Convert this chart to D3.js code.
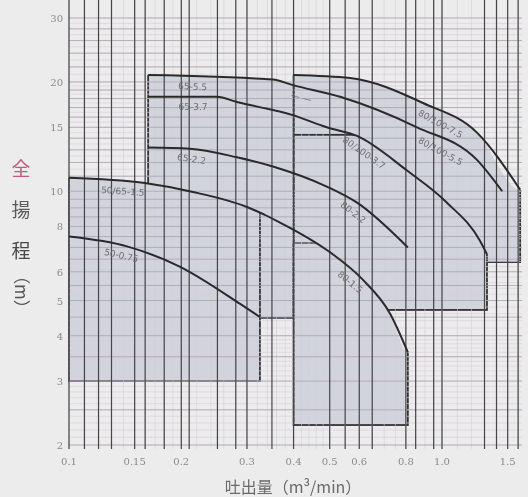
<!DOCTYPE html>
<html>
<head>
<meta charset="utf-8">
<script src="https://cdn.jsdelivr.net/npm/d3@7"></script>
<style>
body{margin:0;background:#ececec;}
svg{display:block;}
</style>
</head>
<body>
<div id="chart"></div>
<script>
// tick labels
var qTicks = [0.1,0.15,0.2,0.3,0.4,0.5,0.6,0.8,1.0,1.5];
var qTickText = ["0.1","0.15","0.2","0.3","0.4","0.5","0.6","0.8","1.0","1.5"];
var hTicks = [2,3,4,5,6,8,10,15,20,30];

// heavy vertical rules of the printed grid (m3/min)
var qRules = [0.1,0.11,0.12,0.13,0.15,0.16,0.18,0.2,0.21,0.25,0.28,0.3,0.35,0.4,0.5,0.55,0.6,0.65,0.8,0.85,0.95,1.0,1.3,1.4,1.5,1.6];

// performance curves, [Q m3/min, H m]
var c075 = [[0.1,7.5],[0.143,7.05],[0.198,6.2],[0.287,4.9],[0.325,4.5]];
var c15  = [[0.1,10.9],[0.158,10.55],[0.215,9.95],[0.3,9.05],[0.368,8.2],[0.5,6.8],[0.614,5.7],[0.726,4.6],[0.81,3.6]];
var c22  = [[0.163,13.2],[0.211,13.1],[0.282,12.4],[0.352,11.7],[0.491,10.3],[0.592,9.3],[0.81,7.0]];
var c37  = [[0.163,18.2],[0.249,18.2],[0.282,17.6],[0.398,16.2],[0.491,15.0],[0.592,14.2],[0.806,11.4],[1.031,9.3],[1.264,7.3],[1.32,6.7]];
var c55  = [[0.163,20.9],[0.352,20.3],[0.398,19.6],[0.533,18.2],[0.857,15.0],[1.241,12.2],[1.45,10.0]];
var c75  = [[0.4,20.9],[0.567,20.5],[0.889,17.5],[1.241,14.5],[1.62,10.1]];

// application ranges: Q from-to, lowest head, head cap, top curve
var ranges = [
  {q0:0.4,   q1:1.62,  h0:6.38, cap:40,   top:c75},
  {q0:0.4,   q1:1.32,  h0:4.71, cap:14.3, top:c37},
  {q0:0.163, q1:0.4,   h0:4.48, cap:40,   top:c55},
  {q0:0.1,   q1:0.325, h0:3.0,  cap:40,   top:c15},
  {q0:0.4,   q1:0.81,  h0:2.27, cap:7.2,  top:c15}
];

var curves = [c075, c15, c22, c37, c55, c75];

// model names along the curves, with the flow where they sit
var labelText = ["50-0.75","50/65-1.5","80-1.5","65-2.2","80-2.2","65-3.7","80/100-3.7","65-5.5","— —","80/100-5.5","80/100-7.5"];
var labelCurve = [c075, c15, c15, c22, c22, c37, c37, c55, c55, c55, c75];
var labelQ = [0.14, 0.14, 0.59, 0.215, 0.6, 0.215, 0.64, 0.215, 0.425, 1.02, 1.02];

var W = 528, H = 497;
var svg = d3.select('#chart').append('svg').attr('width',W).attr('height',H);

var x = d3.scaleLog().domain([0.1,1.5]).range([69, 69+373*Math.log10(15)]);
var y = d3.scaleLog().domain([2,30]).range([445,18]);
var left = x(0.1), right = 522, top = 15, bottom = 449;

var defs = svg.append('defs');
defs.append('filter').attr('id','soft')
  .append('feGaussianBlur').attr('stdDeviation',0.4);

var g = svg.append('g').attr('filter','url(#soft)');

g.append('rect').attr('x',left).attr('y',top)
  .attr('width',right-left).attr('height',bottom-top)
  .style('fill','#f6f4f6');

function headAt(c, q){
  var lq = Math.log(q);
  for (var i = 0; i < c.length-1; i++) {
    var a = c[i], b = c[i+1];
    if (q <= b[0] || i == c.length-2) {
      var t = (lq-Math.log(a[0]))/(Math.log(b[0])-Math.log(a[0]));
      return Math.exp(Math.log(a[1]) + t*(Math.log(b[1])-Math.log(a[1])));
    }
  }
}

var line = d3.line()
  .x(function(d){return x(d[0]);})
  .y(function(d){return y(d[1]);})
  .curve(d3.curveMonotoneX);

var under = d3.area()
  .x(function(d){return x(d[0]);})
  .y0(bottom+10)
  .y1(function(d){return y(d[1]);})
  .curve(d3.curveMonotoneX);

// shaded ranges, each clipped under its curve
ranges.forEach(function(r, i){
  var c = r.top;
  var pts = [[c[0][0]/1.03, c[0][1]]].concat(c, [[c[c.length-1][0]*1.03, c[c.length-1][1]]]);
  defs.append('clipPath').attr('id','under'+i)
    .append('path').attr('d', under(pts));
  g.append('rect')
    .attr('x', x(r.q0))
    .attr('y', y(Math.min(r.cap, 40)))
    .attr('width', x(r.q1)-x(r.q0))
    .attr('height', y(r.h0)-y(Math.min(r.cap,40)))
    .attr('clip-path','url(#under'+i+')')
    .style('fill','#d0d5dd')
    .style('stroke','#333')
    .style('stroke-width',1.8);
});

// printed grid
var hMinor = d3.range(2,4,0.1).concat(d3.range(4,10,0.2), d3.range(10,20,0.5), d3.range(20,30.01,1));
var hMajor = d3.range(2,10,0.5).concat(d3.range(10,20,1), d3.range(20,31,2));
var qMinor = d3.range(0.1,0.2,0.01).concat(d3.range(0.2,0.5,0.02), d3.range(0.5,1,0.05), d3.range(1,1.66,0.1));

g.selectAll('.hmin').data(hMinor).enter().append('line')
  .attr('x1',left).attr('x2',right)
  .attr('y1',function(d){return y(d);}).attr('y2',function(d){return y(d);})
  .style('stroke','#e0cde0').style('stroke-width',0.7);

g.selectAll('.qmin').data(qMinor).enter().append('line')
  .attr('y1',top).attr('y2',bottom)
  .attr('x1',function(d){return x(d);}).attr('x2',function(d){return x(d);})
  .style('stroke','#cfd0d3').style('stroke-width',0.6);

g.selectAll('.hmaj').data(hMajor).enter().append('line')
  .attr('x1',left).attr('x2',right)
  .attr('y1',function(d){return y(d);}).attr('y2',function(d){return y(d);})
  .style('stroke','#a9a3ae').style('stroke-width',0.8);

g.selectAll('.qrule').data(qRules).enter().append('line')
  .attr('y1',top).attr('y2',bottom)
  .attr('x1',function(d){return x(d);}).attr('x2',function(d){return x(d);})
  .style('stroke','#444').style('stroke-width',1.2);

// curves
curves.forEach(function(c){
  g.append('path').attr('d', line(c))
    .style('fill','none').style('stroke','#2a2a2a').style('stroke-width',2);
});

// labels along curves
labelText.forEach(function(t, i){
  var c = labelCurve[i], q = labelQ[i];
  var xa = x(q/1.04), ya = y(headAt(c, q/1.04));
  var xb = x(q*1.04), yb = y(headAt(c, q*1.04));
  var ang = Math.atan2(yb-ya, xb-xa)*180/Math.PI;
  var px = x(q), py = y(headAt(c, q));
  g.append('text')
    .attr('transform','translate('+px+','+py+') rotate('+ang+') translate(0,13)')
    .attr('text-anchor','middle')
    .style('font-family','DejaVu Sans, sans-serif')
    .style('font-size','9px')
    .style('fill','#6e6e6e')
    .text(t);
});

// tick labels
g.selectAll('.qt').data(qTicks).enter().append('text')
  .attr('x',function(d){return x(d);}).attr('y',465)
  .attr('text-anchor','middle')
  .style('font-family','DejaVu Serif, serif').style('font-size','10px').style('fill','#8a8a8a')
  .text(function(d,i){return qTickText[i];});

g.selectAll('.ht').data(hTicks).enter().append('text')
  .attr('x',63).attr('y',function(d){return y(d)+4;})
  .attr('text-anchor','end')
  .style('font-family','DejaVu Serif, serif').style('font-size','10px').style('fill','#8a8a8a')
  .text(function(d){return d;});

// axis titles
var yTitle = [["全","#c45a82"],["揚","#5a5a5a"],["程","#4a4a4a"]];
yTitle.forEach(function(d, i){
  g.append('text').attr('x',21).attr('y',176+i*41)
    .attr('text-anchor','middle')
    .style('font-family','Noto Sans CJK JP, sans-serif').style('font-size','19px')
    .style('fill',d[1]).text(d[0]);
});
g.append('text').attr('transform','translate(15,292) rotate(90)')
  .attr('text-anchor','middle')
  .style('font-family','Noto Sans CJK JP, sans-serif').style('font-size','17px')
  .style('fill','#555').text('（m）');

g.append('text').attr('x',293).attr('y',493)
  .attr('text-anchor','middle')
  .style('font-family','Noto Sans CJK JP, sans-serif').style('font-size','16px')
  .style('fill','#6a6a6a').text('吐出量（m³/min）');
</script>
</body>
</html>
